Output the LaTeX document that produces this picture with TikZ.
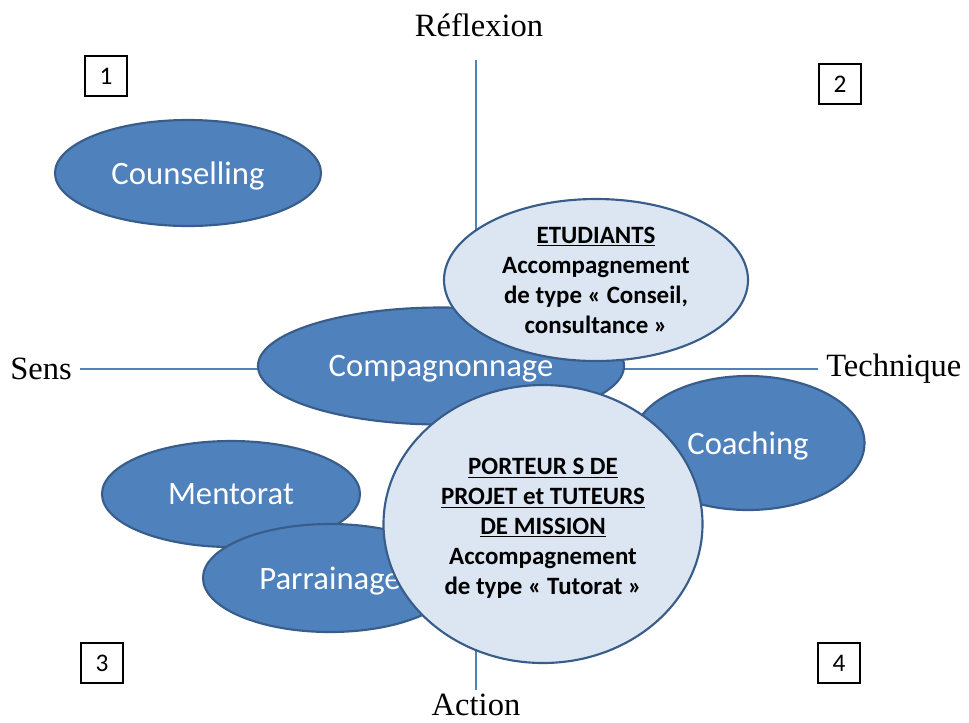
\documentclass[tikz,border=0pt]{standalone}
\usepackage{fontspec}
\setmainfont{Liberation Serif}
\newfontfamily\calibri{Carlito}
\usepackage{xcolor}
\usepackage{tikz}
\usetikzlibrary{shapes.geometric,positioning}
\definecolor{ofblue}{HTML}{4F81BD}
\definecolor{ofedge}{HTML}{385D8A}
\definecolor{oflight}{HTML}{DCE6F2}

\begin{document}
\begin{tikzpicture}[x=0.75pt, y=-0.75pt,
  axis/.style={draw=ofblue, line width=0.9pt},
  axlabel/.style={font=\fontsize{24.4}{28}\selectfont, inner sep=0pt},
  numbox/.style={draw=black, line width=1.4pt, inner sep=0pt,
    font=\calibri\fontsize{19}{22}\selectfont,
    minimum width=31.5pt, minimum height=30pt},
  esize/.style 2 args={minimum width=#1*0.75pt, minimum height=#2*0.75pt},
  dark/.style={ellipse, draw=ofedge, line width=1.6pt, fill=ofblue,
    text=white, inner sep=0pt, text depth=0pt,
    font=\calibri\fontsize{24.5}{28}\selectfont},
  light/.style={ellipse, draw=ofedge, line width=1.6pt, fill=oflight,
    text=black, inner sep=0pt, align=center,
    font=\calibri\bfseries\fontsize{18.7}{22.5}\selectfont}]
\useasboundingbox (0,0) rectangle (969,722);
% the two axes
\coordinate (ntop) at (476,60);
\coordinate (nbot) at (476,690);
\coordinate (wend) at (80,369);
\coordinate (eend) at (818,369);
\draw[axis] (ntop) -- (nbot);
\draw[axis] (wend) -- (eend);
\node[axlabel] (refl) at (479,25) {Réflexion};
\node[axlabel] (act) at (476,705) {Action};
\node[axlabel, left=6pt of wend] (sens) {Sens};
\node[axlabel, right=6pt of eend] (tech) {Technique};
% kinds of support
\node[dark, esize={266}{106}] (couns) at (188,173) {Counselling};
\node[dark, esize={258}{106}] (ment) at (231,494) {Mentorat};
\node[dark, esize={254}{108}] (parr) at (330,578) {Parrainage};
\node[dark, esize={366}{117}] (comp) at (441,366) {Compagnonnage};
\node[light, esize={304}{162}] (etud) at (596,280)
  {\underline{ETUDIANTS}\\Accompagnement\\de type « Conseil,\\consultance »};
\node[dark, esize={233}{134}] (coach) at (748,443) {Coaching};
\node[light, esize={319}{278}] (port) at (543,524)
  {\rule{0pt}{19pt}\underline{PORTEUR S DE}\\\underline{PROJET et TUTEURS}\\\underline{DE MISSION}\\Accompagnement\\de type « Tutorat »};
% quadrant numbers
\node[numbox] (q1) at (106,76) {1};
\node[numbox] (q2) at (840,84) {2};
\node[numbox] (q3) at (102,663) {3};
\node[numbox] (q4) at (839,663) {4};
\end{tikzpicture}
\end{document}
